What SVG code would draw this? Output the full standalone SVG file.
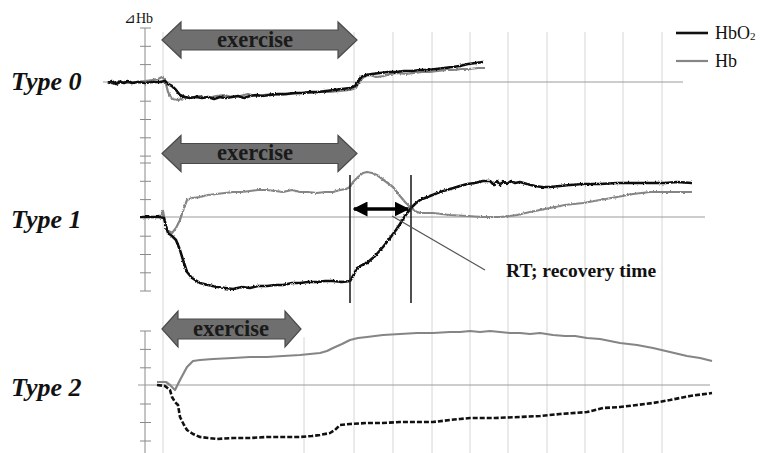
<svg xmlns="http://www.w3.org/2000/svg" width="760" height="453" viewBox="0 0 760 453">
<defs>
<style>
.grid{stroke:#d6d6d6;stroke-width:1;fill:none}
.axis{stroke:#8a8a8a;stroke-width:1;fill:none}
.zero{stroke:#9a9a9a;stroke-width:1;fill:none}
.hbo2{stroke:#111;stroke-width:2.6;fill:none;stroke-linejoin:round}
.hb{stroke:#858585;stroke-width:2.2;fill:none;stroke-linejoin:round}
.noisy{filter:url(#jit)}
.dash{stroke-dasharray:5 2}
.ex{fill:#6f6f6f;stroke:#4a4a4a;stroke-width:1.2}
.ext{font-family:"Liberation Serif",serif;font-weight:bold;font-size:24px;fill:#1a1a1a;text-anchor:middle}
.type{font-family:"Liberation Serif",serif;font-weight:bold;font-style:italic;font-size:26px;fill:#111}
.lab{font-family:"Liberation Serif",serif;font-size:18px;fill:#111}
.bar{stroke:#222;stroke-width:1.6}
</style>
<filter id="jit" x="-5%" y="-20%" width="110%" height="140%">
<feTurbulence type="fractalNoise" baseFrequency="0.6" numOctaves="1" seed="3" result="n"/>
<feDisplacementMap in="SourceGraphic" in2="n" scale="3" xChannelSelector="R" yChannelSelector="G"/>
</filter>
<marker id="ah" viewBox="0 0 10 10" refX="9" refY="5" markerWidth="15" markerHeight="15" markerUnits="userSpaceOnUse" orient="auto-start-reverse">
<path d="M0,0 L10,5 L0,10 z" fill="#000"/>
</marker>
</defs>
<rect width="760" height="453" fill="#fff"/>

<g id="grid">
<path class="grid" d="M163,32V453 M354,32V453 M393,32V453 M432,32V453 M470,32V453 M508,32V453 M547,32V453 M585,32V453 M623,32V453 M662,32V453 M304,337V453"/>
</g>

<g id="axes">
<path class="axis" d="M145,28V291 M145,331V453"/>
<path class="axis" d="M140,28H151 M140,46.3H151 M140,64.6H151 M140,101.2H151 M140,119.5H151 M140,137.8H151 M140,156.1H151 M140,163H151 M140,181.3H151 M140,199.6H151 M140,236.2H151 M140,254.5H151 M140,272.8H151 M140,291H151 M140,331H151 M140,349.4H151 M140,367.8H151 M140,404H151 M140,422.5H151 M140,441H151"/>
<path class="zero" d="M103,82H683 M140,217H705 M138,385H710"/>
<text class="lab" x="124" y="23" style="font-size:14px">⊿Hb</text>
</g>

<g id="legend">
<line x1="676" y1="33" x2="708" y2="33" stroke="#111" stroke-width="2.6"/>
<text class="lab" x="715" y="39">HbO<tspan font-size="11" dy="1">2</tspan></text>
<line x1="676" y1="61" x2="708" y2="61" stroke="#858585" stroke-width="2.2"/>
<text class="lab" x="715" y="67">Hb</text>
</g>

<g id="type0">
<text class="type" x="11" y="90">Type 0</text>
<polygon class="ex" points="162,40 181,22 181,30 338,30 338,22 357,40 338,58 338,50 181,50 181,58"/>
<text class="ext" x="255" y="47" textLength="76" lengthAdjust="spacingAndGlyphs">exercise</text>
<path class="hb noisy" d="M108,82 L114,84 L120,81 L128,83 L136,82 L145,81 L152,80 L158,79 L162,77 L165,80 L168,92 L172,99 L178,100 L184,98 L192,97 L200,96 L208,98 L216,96 L224,95 L232,97 L240,96 L248,94 L256,96 L264,95 L272,94 L280,95 L290,94 L300,93 L310,93 L320,92 L330,92 L340,91 L350,90 L356,88 L359,82 L364,77 L370,75 L376,77 L384,76 L390,74 L398,73 L406,74 L414,73 L422,72 L430,72 L438,71 L446,70 L454,70 L462,69 L470,69 L478,68 L485,68"/>
<path class="hbo2 noisy" d="M108,83 L112,81 L116,84 L120,82 L124,83 L128,81 L132,83 L138,82 L145,83 L152,82 L160,82 L165,81 L168,84 L172,86 L176,90 L180,95 L185,97 L190,98 L196,97 L202,98 L208,97 L214,99 L220,97 L226,98 L232,97 L238,96 L244,98 L250,96 L256,95 L262,96 L270,95 L278,94 L286,94 L294,93 L302,93 L310,92 L318,92 L326,91 L334,90 L342,89 L350,88 L355,86 L358,82 L361,77 L366,75 L372,74 L380,73 L388,72 L396,72 L404,71 L412,71 L420,70 L428,70 L436,69 L444,68 L452,67 L460,66 L468,64 L476,63 L483,62"/>
</g>

<g id="type1">
<text class="type" x="11" y="228">Type 1</text>
<polygon class="ex" points="162,153.5 181,135.5 181,143.5 338,143.5 338,135.5 357,153.5 338,171.5 338,163.5 181,163.5 181,171.5"/>
<text class="ext" x="255" y="160" textLength="76" lengthAdjust="spacingAndGlyphs">exercise</text>
<path class="hb noisy" d="M140,217 L155,217 L160,216 L163,211 L165,222 L167,230 L172,233 L176,228 L180,220 L184,208 L187,200 L192,198 L200,197 L208,195 L216,194 L225,193 L233,192 L242,192 L250,191 L258,190 L267,190 L275,191 L283,192 L292,190 L300,192 L308,192 L317,193 L325,192 L333,192 L340,190 L346,189 L350,187 L353,182 L358,177 L363,173 L367,172 L372,173 L377,175 L385,181 L393,187 L400,196 L405,202 L410,207 L415,211 L420,213 L433,213 L450,215 L467,216 L483,217 L500,217 L510,216 L517,215 L530,212 L540,210 L550,208 L565,205 L583,203 L600,200 L617,197 L633,194 L650,192 L670,192 L692,192"/>
<path class="hbo2 noisy" d="M140,217 L150,217 L160,217 L164,218 L166,226 L168,233 L172,236 L176,240 L180,250 L183,260 L187,272 L192,278 L200,283 L208,285 L217,287 L225,288 L233,289 L242,287 L250,288 L258,286 L267,286 L275,285 L283,285 L292,283 L300,283 L308,282 L317,282 L325,281 L333,281 L342,282 L350,281 L353,276 L357,268 L362,265 L367,263 L375,256 L383,247 L390,238 L396,230 L400,224 L405,216 L411,208 L415,204 L420,200 L430,196 L440,192 L450,189 L460,186 L467,184 L475,183 L483,181 L490,181 L494,185 L497,181 L500,185 L503,181 L507,184 L511,181 L515,183 L520,182 L527,184 L535,186 L542,187 L550,187 L560,186 L570,185 L583,184 L600,184 L617,183 L633,183 L650,183 L665,183 L677,182 L692,183"/>
<line class="bar" x1="350" y1="175" x2="350" y2="303"/>
<line class="bar" x1="411" y1="175" x2="411" y2="303"/>
<text x="506" y="277" style="font-family:'Liberation Serif',serif;font-weight:bold;font-size:19.5px;fill:#111">RT; recovery time</text>
</g>

<g id="type2">
<text class="type" x="11" y="396">Type 2</text>
<polygon class="ex" points="162,329 178,311 178,319 285,319 285,311 301,329 285,347 285,339 178,339 178,347"/>
<text class="ext" x="231" y="336" textLength="76" lengthAdjust="spacingAndGlyphs">exercise</text>
<path class="hb" d="M157,382 L166,382 L170,385 L175,390 L180,380 L187,367 L193,361 L200,360 L213,359 L233,358 L250,357 L267,357 L283,356 L300,355 L310,354 L320,353 L327,351 L333,348 L342,344 L350,340 L358,338 L367,337 L383,335 L400,334 L417,333 L433,333 L450,332 L460,332 L470,331 L480,332 L490,331 L500,332 L510,333 L520,333 L530,334 L540,333 L553,335 L565,336 L575,336 L587,338 L600,339 L610,341 L620,343 L637,345 L653,348 L670,352 L687,356 L700,358 L712,361"/>
<path class="hbo2 dash" d="M157,385 L165,386 L170,390 L172,397 L175,402 L178,405 L180,417 L184,425 L187,430 L193,434 L200,437 L217,439 L233,438 L250,438 L267,437 L283,437 L300,437 L312,436 L320,435 L330,433 L335,430 L340,425 L350,424 L367,423 L383,423 L400,422 L417,422 L433,422 L450,420 L460,419 L470,418 L495,418 L520,417 L540,416 L560,414 L587,412 L603,408 L620,407 L637,405 L653,403 L670,400 L690,396 L712,393"/>
</g>

<g id="connectors">
<line x1="392" y1="216" x2="485" y2="270" stroke="#555" stroke-width="1.2"/>
<line x1="354" y1="209" x2="408" y2="209" stroke="#000" stroke-width="3.5" marker-start="url(#ah)" marker-end="url(#ah)"/>
</g>
</svg>
